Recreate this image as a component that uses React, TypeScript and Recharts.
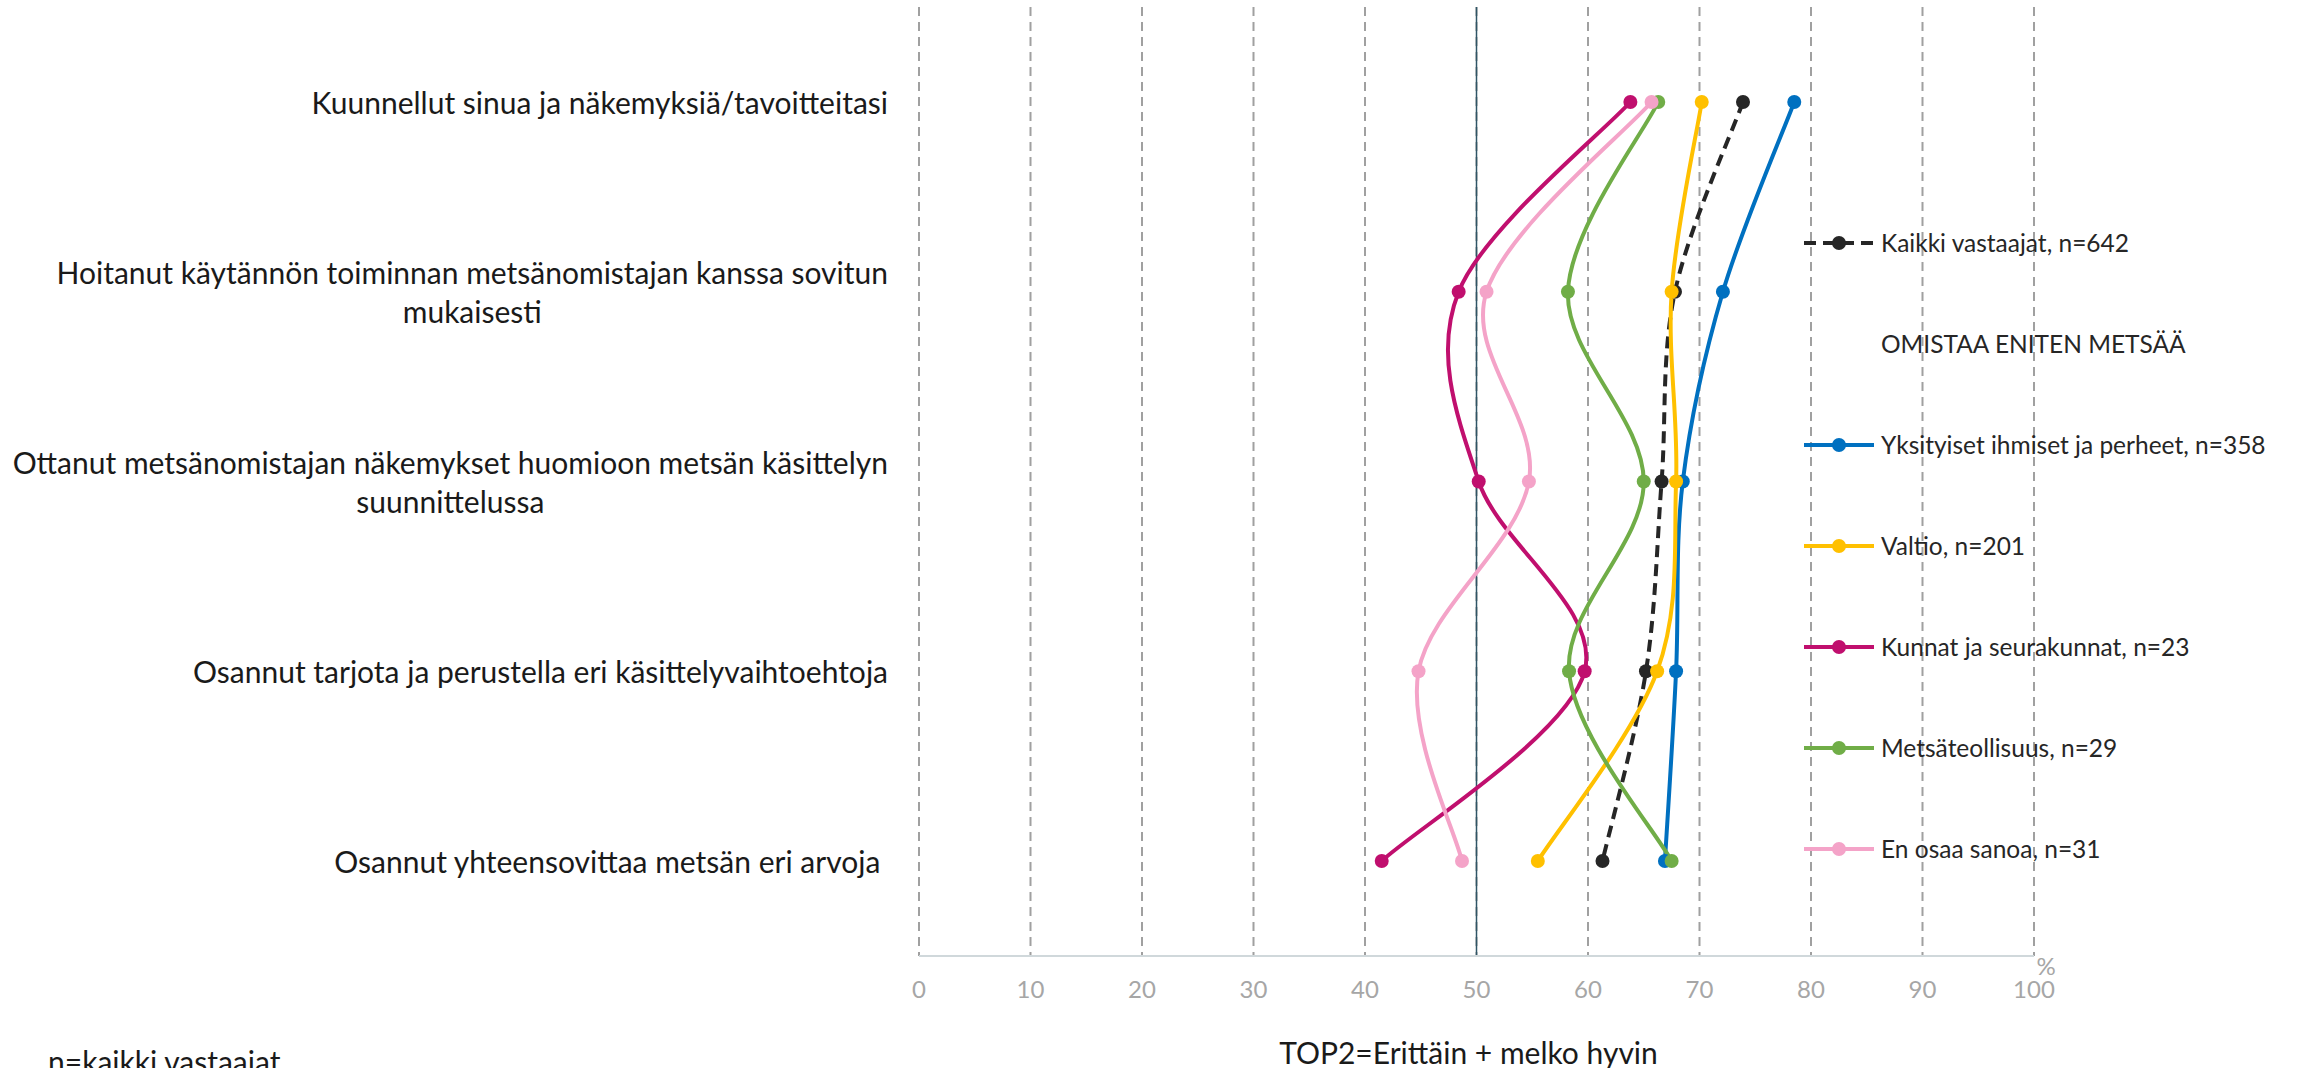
import React from 'react';
import { LineChart, Line, XAxis, YAxis, CartesianGrid, ReferenceLine, Label, Legend } from 'recharts';

const categories = [
  'Kuunnellut sinua ja näkemyksiä/tavoitteitasi',
  'Hoitanut käytännön toiminnan metsänomistajan kanssa sovitun\nmukaisesti',
  'Ottanut metsänomistajan näkemykset huomioon metsän käsittelyn\nsuunnittelussa',
  'Osannut tarjota ja perustella eri käsittelyvaihtoehtoja',
  'Osannut yhteensovittaa metsän eri arvoja ',
];
const kaikki = [73.9, 67.8, 66.6, 65.2, 61.3];
const yksityiset = [78.5, 72.1, 68.5, 67.9, 66.9];
const valtio = [70.2, 67.5, 67.9, 66.2, 55.5];
const kunnat = [63.8, 48.4, 50.2, 59.7, 41.5];
const metsateollisuus = [66.3, 58.2, 65.0, 58.3, 67.5];
const enOsaa = [65.7, 50.9, 54.7, 44.8, 48.7];
const xTicks = [0, 10, 20, 30, 40, 50, 60, 70, 80, 90, 100];
const seriesNames = [
  'Kaikki vastaajat, n=642',
  'Yksityiset ihmiset ja perheet, n=358',
  'Valtio, n=201',
  'Kunnat ja seurakunnat, n=23',
  'Metsäteollisuus, n=29',
  'En osaa sanoa, n=31',
];
const legendHeader = 'OMISTAA ENITEN METSÄÄ';
const axisTitle = 'TOP2=Erittäin + melko hyvin';
const footnote = 'n=kaikki vastaajat';

const seriesKeys = ['kaikki', 'yksityiset', 'valtio', 'kunnat', 'metsa', 'enosaa'];
const seriesValues = [kaikki, yksityiset, valtio, kunnat, metsateollisuus, enOsaa];
const seriesColors = ['#262626', '#0070C0', '#FFC000', '#C00F6E', '#70AD47', '#F4A3C8'];

const data = categories.map((name, i) => {
  const row: any = { name };
  seriesKeys.forEach((k, j) => { row[k] = seriesValues[j][i]; });
  return row;
});

const FONT = "Lato, 'Open Sans', sans-serif";
const CAT_SIZE = 30;
const LINE_H = 39;

let measureCtx: any = null;
function measure(text: string, font: string) {
  if (!measureCtx) measureCtx = document.createElement('canvas').getContext('2d');
  measureCtx.font = font;
  return measureCtx.measureText(text).width;
}

// Excel-like smoothed line (Catmull-Rom bezier)
const excelCurve: any = (context: any) => {
  let pts: number[][] = [];
  return {
    areaStart() {},
    areaEnd() {},
    lineStart() { pts = []; },
    point(x: number, y: number) { pts.push([+x, +y]); },
    lineEnd() {
      const n = pts.length;
      if (!n) return;
      context.moveTo(pts[0][0], pts[0][1]);
      for (let i = 0; i < n - 1; i++) {
        const p0 = pts[i > 0 ? i - 1 : i];
        const p1 = pts[i];
        const p2 = pts[i + 1];
        const p3 = pts[i + 2 < n ? i + 2 : i + 1];
        context.bezierCurveTo(
          p1[0] + (p2[0] - p0[0]) / 6, p1[1] + (p2[1] - p0[1]) / 6,
          p2[0] - (p3[0] - p1[0]) / 6, p2[1] - (p3[1] - p1[1]) / 6,
          p2[0], p2[1]
        );
      }
    },
  };
};

const CategoryTick = (props: any) => {
  const { x, y, payload } = props;
  const lines = String(payload.value).split('\n');
  const font = `${CAT_SIZE}px ${FONT}`;
  const w = Math.max(...lines.map((l) => measure(l, font)));
  const cx = x - w / 2;
  return (
    <g>
      {lines.map((l, i) => (
        <text key={i} x={lines.length > 1 ? cx : x} y={y + (i - (lines.length - 1) / 2) * LINE_H}
          textAnchor={lines.length > 1 ? 'middle' : 'end'} dominantBaseline="central"
          fontFamily={FONT} fontSize={CAT_SIZE} fill="#1A1A1A" style={{ whiteSpace: 'pre' }}>{l}</text>
      ))}
    </g>
  );
};

const XTick = (props: any) => {
  const { x, y, payload } = props;
  return (
    <g>
      <text x={x} y={y + 32} textAnchor="middle" dominantBaseline="central" fill="#A6A6A6" fontSize={24} fontFamily={FONT}>{payload.value}</text>
      {payload.value === 100 && (
        <text x={x + 12} y={y + 9} textAnchor="middle" dominantBaseline="central" fill="#A6A6A6" fontSize={24} fontFamily={FONT}>%</text>
      )}
    </g>
  );
};

const AxisTitle = (props: any) => {
  const vb = props.viewBox || { x: 919, y: 956, width: 1115, height: 112 };
  return (
    <g>
      <text x={vb.x + vb.width / 2 - 8} y={vb.y + 96} textAnchor="middle" dominantBaseline="central" fontFamily={FONT} fontSize={CAT_SIZE} fill="#1A1A1A">{axisTitle}</text>
      <text x={48} y={vb.y + 117} textAnchor="start" fontFamily={FONT} fontSize={CAT_SIZE} fill="#1A1A1A">{footnote}</text>
    </g>
  );
};

const LegendMarker = ({ color, dashed }: { color: string; dashed: boolean }) => (
  <svg width={70} height={20} style={{ display: 'block', flex: 'none' }}>
    <line x1={0} y1={10} x2={70} y2={10} stroke={color} strokeWidth={4} strokeDasharray={dashed ? '12 7' : undefined} />
    <circle cx={35} cy={10} r={7} fill={color} />
  </svg>
);

const renderLegend = () => {
  const itemStyle: React.CSSProperties = { height: 101, display: 'flex', alignItems: 'center', fontFamily: FONT, fontSize: 24.5, color: '#262626', whiteSpace: 'nowrap' };
  const rows: any[] = [];
  rows.push(
    <div key="s0" style={itemStyle}><LegendMarker color={seriesColors[0]} dashed /><span style={{ marginLeft: 7 }}>{seriesNames[0]}</span></div>
  );
  rows.push(<div key="h" style={itemStyle}><span style={{ marginLeft: 77 }}>{legendHeader}</span></div>);
  for (let i = 1; i < seriesNames.length; i++) {
    rows.push(
      <div key={'s' + i} style={itemStyle}><LegendMarker color={seriesColors[i]} dashed={false} /><span style={{ marginLeft: 7 }}>{seriesNames[i]}</span></div>
    );
  }
  return <div>{rows}</div>;
};

export default function App() {
  return (
    <div style={{ position: 'absolute', left: 0, top: 0, width: 2298, height: 1068, background: '#fff', overflow: 'hidden' }}>
      <LineChart layout="vertical" width={2298} height={1068} data={data} margin={{ top: 7, right: 264, bottom: 0, left: 0 }}>
        <CartesianGrid horizontal={false} stroke="#A0A0A0" strokeDasharray="9 6" strokeWidth={2} />
        <XAxis type="number" domain={[0, 100]} ticks={xTicks} height={112} axisLine={{ stroke: '#D0D8DB', strokeWidth: 2 }}
          tickLine={false} tickSize={0} tickMargin={0} tick={<XTick />} interval={0}>
          <Label content={<AxisTitle />} />
        </XAxis>
        <YAxis type="category" dataKey="name" width={919} axisLine={false} tickLine={false} tickSize={0} tickMargin={31}
          tick={<CategoryTick />} interval={0} padding={{ top: 95, bottom: 95 }} />
        <ReferenceLine x={50} stroke="#2F5566" strokeWidth={1.5} />
        <Legend layout="vertical" align="center" verticalAlign="middle" content={renderLegend}
          wrapperStyle={{ left: 1804, top: 192, width: 494, height: 720 }} />
        {seriesKeys.map((k, i) => (
          <Line key={k} dataKey={k} name={seriesNames[i]} type={excelCurve} stroke={seriesColors[i]} strokeWidth={4}
            strokeDasharray={i === 0 ? '12 7' : undefined}
            dot={{ r: 7, fill: seriesColors[i], stroke: seriesColors[i], strokeWidth: 0 }}
            activeDot={false} isAnimationActive={false} />
        ))}
      </LineChart>
    </div>
  );
}
